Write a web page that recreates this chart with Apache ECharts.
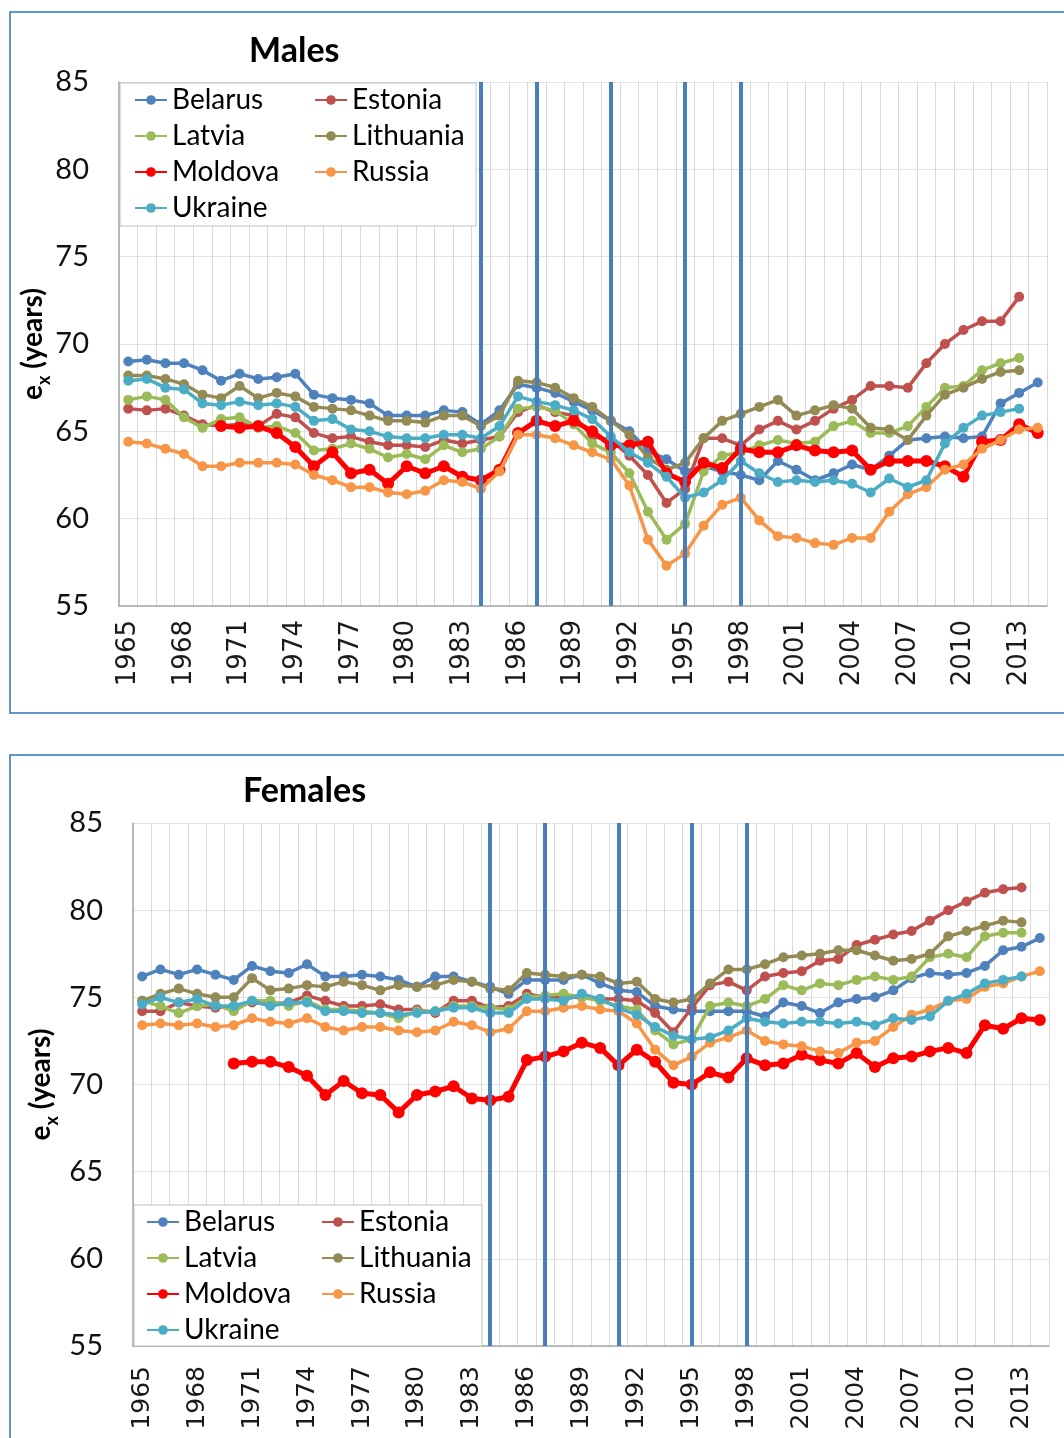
<!DOCTYPE html>
<html>
<head>
<meta charset="utf-8">
<script src="https://cdn.jsdelivr.net/npm/echarts@6/dist/echarts.min.js"></script>
<style>
  html, body { margin: 0; padding: 0; background: #fff; }
  #chart { width: 1064px; height: 1438px; }
</style>
</head>
<body>
<div id="chart"></div>
<script>
// ---- Data ----
const years = [];
for (let y = 1965; y <= 2014; y++) years.push(String(y));

const countries = ['Belarus', 'Estonia', 'Latvia', 'Lithuania', 'Moldova', 'Russia', 'Ukraine'];
const colors = ['#4F81BD', '#C0504D', '#9BBB59', '#948A54', '#FF0000', '#F79646', '#4BACC6'];
const eventYears = ['1984', '1987', '1991', '1995', '1998'];
const yTicks = [55, 60, 65, 70, 75, 80, 85];

// Males, 1965..2014
const malesBelarus = [69.0,69.1,68.9,68.9,68.5,67.9,68.3,68.0,68.1,68.3,67.1,66.9,66.8,66.6,65.9,65.9,65.9,66.2,66.1,65.4,66.2,67.7,67.5,67.2,66.7,66.2,65.6,65.0,63.9,63.4,62.7,63.0,62.7,62.5,62.2,63.3,62.8,62.2,62.6,63.1,62.8,63.6,64.5,64.6,64.7,64.6,64.7,66.6,67.2,67.8];
const malesEstonia = [66.3,66.2,66.3,65.9,65.4,65.3,65.4,65.3,66.0,65.8,64.9,64.6,64.7,64.4,64.2,64.2,64.1,64.5,64.3,64.5,64.7,66.1,66.5,66.1,65.9,64.7,64.5,63.6,62.5,60.9,61.7,64.6,64.6,64.2,65.1,65.6,65.1,65.6,66.3,66.8,67.6,67.6,67.5,68.9,70.0,70.8,71.3,71.3,72.7,null];
const malesLatvia = [66.8,67.0,66.8,65.8,65.2,65.7,65.8,65.2,65.3,64.9,63.9,64.0,64.3,64.0,63.5,63.7,63.4,64.2,63.8,64.0,64.7,66.3,66.4,66.2,65.4,64.3,63.8,62.6,60.4,58.8,59.7,62.7,63.6,63.8,64.2,64.5,64.3,64.4,65.3,65.6,64.9,64.9,65.3,66.4,67.5,67.6,68.5,68.9,69.2,null];
const malesLithuania = [68.2,68.2,68.0,67.7,67.1,66.9,67.6,66.9,67.2,67.0,66.4,66.3,66.2,65.9,65.6,65.6,65.5,65.9,65.9,65.3,65.9,67.9,67.8,67.5,66.9,66.4,65.6,64.8,63.5,62.8,63.2,64.6,65.6,66.0,66.4,66.8,65.9,66.2,66.5,66.3,65.2,65.1,64.5,65.9,67.1,67.5,68.0,68.4,68.5,null];
const malesMoldova = [null,null,null,null,null,65.3,65.2,65.3,64.9,64.1,63.0,63.8,62.6,62.8,62.0,63.0,62.6,63.0,62.4,62.2,62.8,64.9,65.6,65.3,65.6,65.0,64.2,64.2,64.4,62.6,62.1,63.2,62.9,64.0,63.8,63.8,64.2,63.9,63.8,63.9,62.8,63.3,63.3,63.3,63.0,62.4,64.4,64.5,65.4,64.9];
const malesRussia = [64.4,64.3,64.0,63.7,63.0,63.0,63.2,63.2,63.2,63.1,62.5,62.2,61.8,61.8,61.5,61.4,61.6,62.2,62.1,61.7,62.7,64.8,64.8,64.6,64.2,63.8,63.4,61.9,58.8,57.3,58.0,59.6,60.8,61.2,59.9,59.0,58.9,58.6,58.5,58.9,58.9,60.4,61.4,61.8,62.8,63.1,64.0,64.5,65.1,65.2];
const malesUkraine = [67.9,68.0,67.5,67.4,66.6,66.5,66.7,66.5,66.6,66.4,65.6,65.7,65.1,65.0,64.7,64.6,64.6,64.8,64.8,64.6,65.3,67.0,66.7,66.5,66.2,65.7,64.7,63.8,63.2,62.4,61.2,61.5,62.2,63.3,62.6,62.1,62.2,62.1,62.2,62.0,61.5,62.3,61.8,62.2,64.3,65.2,65.9,66.1,66.3,null];

// Females, 1965..2014
const femalesBelarus = [76.2,76.6,76.3,76.6,76.3,76.0,76.8,76.5,76.4,76.9,76.2,76.2,76.3,76.2,76.0,75.6,76.2,76.2,75.9,75.6,75.2,76.0,76.0,76.0,76.3,75.8,75.4,75.3,74.5,74.3,74.2,74.2,74.2,74.2,73.9,74.7,74.5,74.1,74.7,74.9,75.0,75.4,76.1,76.4,76.3,76.4,76.8,77.7,77.9,78.4];
const femalesEstonia = [74.2,74.2,74.7,74.5,74.4,74.5,74.7,74.6,74.7,75.1,74.8,74.5,74.5,74.6,74.3,74.3,74.1,74.8,74.8,74.4,74.5,75.2,75.0,75.0,75.0,74.9,74.9,74.8,74.1,73.0,74.4,75.7,75.9,75.4,76.2,76.4,76.5,77.1,77.2,78.0,78.3,78.6,78.8,79.4,80.0,80.5,81.0,81.2,81.3,null];
const femalesLatvia = [74.8,74.5,74.1,74.5,74.6,74.2,74.8,74.8,74.5,74.8,74.3,74.3,74.2,74.1,73.8,74.2,74.2,74.5,74.5,74.4,74.3,75.0,75.1,75.2,75.0,74.8,74.5,74.3,73.1,72.3,72.6,74.5,74.7,74.5,74.9,75.7,75.4,75.8,75.7,76.0,76.2,76.0,76.2,77.3,77.5,77.3,78.5,78.7,78.7,null];
const femalesLithuania = [74.8,75.2,75.5,75.2,75.0,75.0,76.1,75.4,75.5,75.7,75.6,75.9,75.7,75.4,75.7,75.6,75.7,76.0,75.9,75.5,75.4,76.4,76.3,76.2,76.3,76.2,75.8,75.9,74.9,74.7,74.9,75.8,76.6,76.6,76.9,77.3,77.4,77.5,77.7,77.7,77.4,77.1,77.2,77.5,78.5,78.8,79.1,79.4,79.3,null];
const femalesMoldova = [null,null,null,null,null,71.2,71.3,71.3,71.0,70.5,69.4,70.2,69.5,69.4,68.4,69.4,69.6,69.9,69.2,69.1,69.3,71.4,71.6,71.9,72.4,72.1,71.1,72.0,71.3,70.1,70.0,70.7,70.4,71.5,71.1,71.2,71.7,71.4,71.2,71.8,71.0,71.5,71.6,71.9,72.1,71.8,73.4,73.2,73.8,73.7];
const femalesRussia = [73.4,73.5,73.4,73.5,73.3,73.4,73.8,73.6,73.5,73.8,73.3,73.1,73.3,73.3,73.1,73.0,73.1,73.6,73.4,73.0,73.2,74.2,74.2,74.4,74.5,74.3,74.2,73.5,72.0,71.1,71.6,72.4,72.7,73.1,72.5,72.3,72.2,71.9,71.8,72.4,72.5,73.3,74.0,74.3,74.8,74.9,75.6,75.8,76.2,76.5];
const femalesUkraine = [74.6,75.0,74.7,74.9,74.5,74.5,74.8,74.5,74.7,74.7,74.2,74.2,74.1,74.1,74.0,74.1,74.2,74.4,74.4,74.1,74.1,74.9,74.9,74.8,75.2,74.9,74.4,74.0,73.3,72.8,72.6,72.7,73.1,73.8,73.6,73.5,73.6,73.6,73.5,73.6,73.4,73.8,73.7,73.9,74.8,75.2,75.8,76.0,76.2,null];

const malesData = [malesBelarus, malesEstonia, malesLatvia, malesLithuania, malesMoldova, malesRussia, malesUkraine];
const femalesData = [femalesBelarus, femalesEstonia, femalesLatvia, femalesLithuania, femalesMoldova, femalesRussia, femalesUkraine];

// ---- Chart ----
const FONT = 'Lato, "Noto Sans", sans-serif';
const chart = echarts.init(document.getElementById('chart'), null, { renderer: 'canvas' });

function makeSeries(data, axisIdx) {
  return countries.map((name, i) => {
    const isMd = name === 'Moldova';
    const s = {
      name: name,
      type: 'line',
      xAxisIndex: axisIdx,
      yAxisIndex: axisIdx,
      data: data[i],
      symbol: 'circle',
      symbolSize: isMd ? 12 : 10,
      showSymbol: true,
      lineStyle: { width: isMd ? 5 : 3.5, color: colors[i] },
      itemStyle: { color: colors[i] },
      emphasis: { disabled: true },
      z: 2 + i * 0.1
    };
    if (i === countries.length - 1) {
      s.markLine = {
        silent: true,
        symbol: ['none', 'none'],
        label: { show: false },
        lineStyle: { color: '#4A7EBB', width: 4, type: 'solid' },
        emphasis: { disabled: true },
        data: eventYears.map(y => ({ xAxis: y }))
      };
    }
    return s;
  });
}

function xAxisCfg(gridIndex, fontSize, margin) {
  return {
    type: 'category',
    gridIndex: gridIndex,
    data: years,
    boundaryGap: true,
    axisLine: { show: true, lineStyle: { color: '#A6A6A6', width: 1.5 } },
    axisTick: { show: false },
    splitLine: { show: true, interval: 0, lineStyle: { color: '#D9D9D9', width: 1 } },
    axisLabel: {
      interval: 2, rotate: 90, margin: margin,
      fontFamily: '"DejaVu Sans", sans-serif', fontSize: fontSize, color: '#1a1a1a'
    }
  };
}

function yAxisCfg(gridIndex, gap) {
  return {
    type: 'value',
    gridIndex: gridIndex,
    min: yTicks[0], max: yTicks[yTicks.length - 1], interval: 5,
    axisLine: { show: true, lineStyle: { color: '#A6A6A6', width: 1.5 } },
    axisTick: { show: false },
    splitLine: { show: true, lineStyle: { color: '#E3E3E3', width: 1.2 } },
    axisLabel: { margin: 30, fontFamily: FONT, fontSize: 29, color: '#111' },
    name: '{a|e}{b|x}{a| (years)}',
    nameLocation: 'middle',
    nameRotate: 90,
    nameGap: gap,
    nameMoveOverlap: false,
    nameTextStyle: {
      rich: {
        a: { fontFamily: FONT, fontWeight: 'bold', fontSize: 28, color: '#000', lineHeight: 34, verticalAlign: 'top' },
        b: { fontFamily: FONT, fontWeight: 'bold', fontSize: 18, color: '#000', lineHeight: 18, verticalAlign: 'bottom' }
      }
    }
  };
}

function legendCfg(names, left, top) {
  return {
    data: names,
    orient: 'vertical',
    left: left, top: top,
    itemWidth: 32, itemHeight: 12,
    itemGap: 6,
    padding: 0,
    selectedMode: false,
    textStyle: { fontFamily: FONT, fontSize: 28, color: '#000', lineHeight: 30 }
  };
}

const option = {
  backgroundColor: '#fff',
  animation: false,
  title: [
    { text: 'Males', left: 249, top: 34, padding: 0,
      textStyle: { fontFamily: FONT, fontWeight: 'bold', fontSize: 34, color: '#000' } },
    { text: 'Females', left: 243, top: 774, padding: 0,
      textStyle: { fontFamily: FONT, fontWeight: 'bold', fontSize: 34, color: '#000' } }
  ],
  grid: [
    { left: 119, top: 82, width: 928, height: 524 },
    { left: 133, top: 823, width: 916, height: 523 }
  ],
  xAxis: [xAxisCfg(0, 26, 14), xAxisCfg(1, 25, 20)],
  yAxis: [yAxisCfg(0, 66), yAxisCfg(1, 72)],
  legend: [
    legendCfg(['Belarus', 'Latvia', 'Moldova', 'Ukraine'], 134, 85),
    legendCfg(['Estonia', 'Lithuania', 'Russia'], 314, 85),
    legendCfg(['Belarus', 'Latvia', 'Moldova', 'Ukraine'], 146, 1207),
    legendCfg(['Estonia', 'Lithuania', 'Russia'], 321, 1207)
  ],
  graphic: [
    { type: 'rect', z: 100, silent: true, shape: { x: 10, y: 12, width: 1070, height: 701 },
      style: { fill: 'none', stroke: '#2E75B6', lineWidth: 1.5 } },
    { type: 'rect', z: 100, silent: true, shape: { x: 10, y: 755, width: 1070, height: 700 },
      style: { fill: 'none', stroke: '#2E75B6', lineWidth: 1.5 } },
    { type: 'rect', z: 3, silent: true, shape: { x: 120, y: 83, width: 356, height: 143 },
      style: { fill: '#fff', stroke: '#BFBFBF', lineWidth: 1 } },
    { type: 'rect', z: 3, silent: true, shape: { x: 134, y: 1205, width: 348, height: 141 },
      style: { fill: '#fff', stroke: '#BFBFBF', lineWidth: 1 } }
  ],
  series: makeSeries(malesData, 0).concat(makeSeries(femalesData, 1))
};

chart.setOption(option);
</script>
</body>
</html>
